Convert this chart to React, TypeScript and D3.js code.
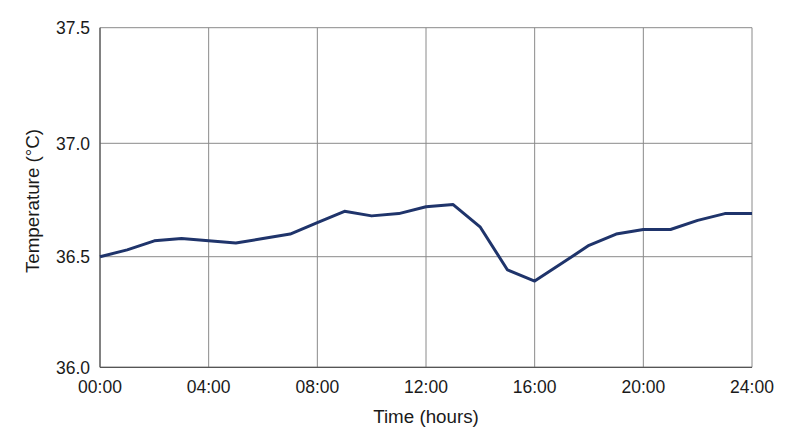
import { useEffect, useRef } from "react";
import * as d3 from "d3";

// hourly readings, 00:00 .. 24:00
const hours = d3.range(0, 25);
const temps = [
  36.5, 36.53, 36.57, 36.58, 36.57, 36.56, 36.58, 36.6, 36.65, 36.7, 36.68,
  36.69, 36.72, 36.73, 36.63, 36.44, 36.39, 36.47, 36.55, 36.6, 36.62, 36.62,
  36.66, 36.69, 36.69,
];
const xTicks = [0, 4, 8, 12, 16, 20, 24];
const xTickLabels = ["00:00", "04:00", "08:00", "12:00", "16:00", "20:00", "24:00"];
const yTicks = [36.0, 36.5, 37.0, 37.5];

const W = 800;
const H = 447;
const margin = { left: 100, right: 48 };

const App = () => {
  const svgRef = useRef<SVGSVGElement>(null);

  useEffect(() => {
    if (!svgRef.current) return;
    const svg = d3.select(svgRef.current);
    svg.selectAll("*").remove();

    const x = d3
      .scaleLinear()
      .domain([0, 24])
      .range([margin.left, W - margin.right]);
    // the source image is slightly uneven vertically, so use a piecewise scale
    const y = d3
      .scaleLinear()
      .domain(yTicks)
      .range([367.3, 256.7, 143.3, 27.7]);

    const font = "'Liberation Sans', Arial, sans-serif";

    // grid
    svg
      .append("g")
      .selectAll("line")
      .data(xTicks)
      .join("line")
      .attr("x1", (d) => x(d))
      .attr("x2", (d) => x(d))
      .attr("y1", y(36))
      .attr("y2", y(37.5))
      .attr("stroke", "#8a8a8a")
      .attr("stroke-width", 1);

    svg
      .append("g")
      .selectAll("line")
      .data(yTicks)
      .join("line")
      .attr("x1", x(0))
      .attr("x2", x(24))
      .attr("y1", (d) => y(d))
      .attr("y2", (d) => y(d))
      .attr("stroke", "#8a8a8a")
      .attr("stroke-width", 1);

    // axis lines
    svg
      .append("line")
      .attr("x1", x(0))
      .attr("x2", x(0))
      .attr("y1", y(36))
      .attr("y2", y(37.5))
      .attr("stroke", "#555")
      .attr("stroke-width", 1.2);
    svg
      .append("line")
      .attr("x1", x(0))
      .attr("x2", x(24))
      .attr("y1", y(36))
      .attr("y2", y(36))
      .attr("stroke", "#555")
      .attr("stroke-width", 1.2);

    // tick labels
    svg
      .append("g")
      .selectAll("text")
      .data(yTicks)
      .join("text")
      .attr("x", x(0) - 10)
      .attr("y", (d) => y(d))
      .attr("dy", "0.38em")
      .attr("text-anchor", "end")
      .attr("font-family", font)
      .attr("font-size", 17.5)
      .attr("fill", "#1a1a1a")
      .text((d) => d.toFixed(1));

    svg
      .append("g")
      .selectAll("text")
      .data(xTicks)
      .join("text")
      .attr("x", (d) => x(d))
      .attr("y", y(36) + 26)
      .attr("text-anchor", "middle")
      .attr("font-family", font)
      .attr("font-size", 17.5)
      .attr("fill", "#1a1a1a")
      .text((_, i) => xTickLabels[i]);

    // axis titles
    svg
      .append("text")
      .attr("x", (x(0) + x(24)) / 2)
      .attr("y", 423)
      .attr("text-anchor", "middle")
      .attr("font-family", font)
      .attr("font-size", 18.8)
      .attr("fill", "#1a1a1a")
      .text("Time (hours)");

    svg
      .append("text")
      .attr("transform", "translate(39,201) rotate(-90)")
      .attr("text-anchor", "middle")
      .attr("font-family", font)
      .attr("font-size", 18.8)
      .attr("fill", "#1a1a1a")
      .text("Temperature (°C)");

    // series
    const line = d3
      .line<number>()
      .x((_, i) => x(hours[i]))
      .y((d) => y(d));

    svg
      .append("path")
      .datum(temps)
      .attr("d", line)
      .attr("fill", "none")
      .attr("stroke", "#1f346b")
      .attr("stroke-width", 3)
      .attr("stroke-linejoin", "round");
  }, []);

  return (
    <svg
      ref={svgRef}
      width={W}
      height={H}
      style={{ display: "block", position: "absolute", left: 0, top: 0, background: "#fff" }}
    />
  );
};

export default App;
